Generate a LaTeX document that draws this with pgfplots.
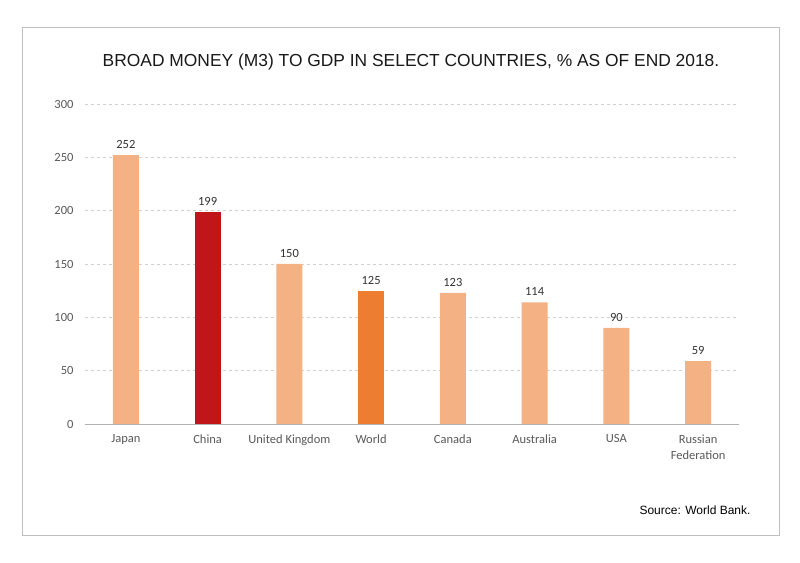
\documentclass[border=0pt]{standalone}
\usepackage{pgfplots}
\pgfplotsset{compat=1.18}
\usepackage{fontspec}
\setmainfont{Carlito}
\newfontfamily\titlefont{Liberation Sans}
\definecolor{light}{HTML}{F4B183}
\definecolor{china}{HTML}{C0161A}
\definecolor{world}{HTML}{ED7D31}
\definecolor{tick}{HTML}{595959}
\begin{document}
\begin{tikzpicture}[x=1pt,y=1pt]
\fill[white] (0,0) rectangle (800,562);
\useasboundingbox (0,0) rectangle (800,562);
\draw[black!25, line width=0.8pt] (22,27) rectangle (779,535);
\node[font=\titlefont\fontsize{17.4}{20}\selectfont, text=black!90] at (411,500) {BROAD MONEY (M3) TO GDP IN SELECT COUNTRIES, \% AS OF END 2018.};
\node[font=\titlefont\fontsize{12}{14}\selectfont, anchor=east, text=black] at (754,52) {Source: World Bank.};
\begin{axis}[
  at={(85pt,138pt)}, anchor=south west,
  scale only axis, width=654pt, height=320pt,
  xmin=-0.5, xmax=7.5, ymin=0, ymax=300,
  ytick={0,50,100,150,200,250,300},
  xtick={0,1,2,3,4,5,6,7},
  xticklabels={Japan,China,United Kingdom,World,Canada,Australia,USA,{Russian\\Federation}},
  xticklabel style={align=center, font=\fontsize{12.5}{16}\selectfont, text=tick},
  yticklabel style={font=\fontsize{12.5}{14}\selectfont, text=tick},
  /pgf/number format/assume math mode=true,
  axis line style={draw=none},
  axis x line*=bottom, axis y line*=left,
  major tick length=0pt,
  xtick style={draw=none}, ytick style={draw=none},
  ymajorgrids, grid style={dashed, black!18, line width=0.5pt},
  ybar, bar width=26pt, bar shift=0pt,
  nodes near coords,
  nodes near coords style={font=\fontsize{12.5}{14}\selectfont, text=black!80, yshift=3pt},
  xtick pos=bottom, ytick pos=left,
  xticklabel shift=7pt, yticklabel shift=8pt,
  clip=false,
]
\addplot[fill=light, draw=none] coordinates {(0,252) (2,150) (4,123) (5,114) (6,90) (7,59)};
\addplot[fill=china, draw=none] coordinates {(1,199)};
\addplot[fill=world, draw=none] coordinates {(3,125)};
\draw[black!30, line width=0.6pt] (axis cs:-0.5,0) -- (axis cs:7.5,0);
\end{axis}
\end{tikzpicture}
\end{document}
